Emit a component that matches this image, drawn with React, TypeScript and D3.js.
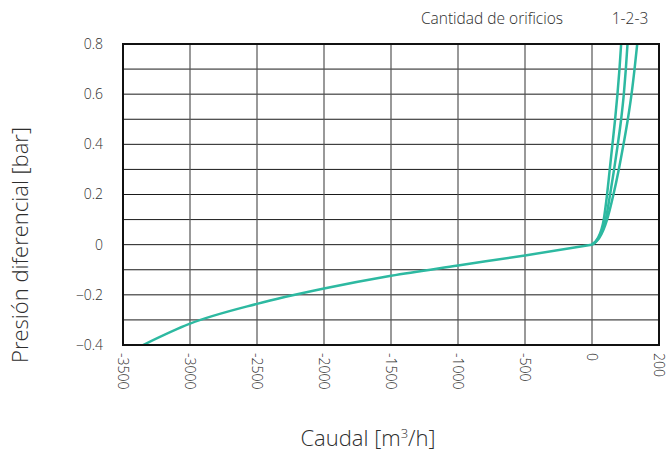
import React from "react";
import * as d3 from "d3";

const xTicks = [-3500, -3000, -2500, -2000, -1500, -1000, -500, 0, 200];
const yTicks = [-0.4, -0.2, 0, 0.2, 0.4, 0.6, 0.8];
const yGrid = [-0.4, -0.3, -0.2, -0.1, 0, 0.1, 0.2, 0.3, 0.4, 0.5, 0.6, 0.7, 0.8];

const negFlow = [-3350, -3000, -2500, -2000, -1500, -1000, -500, 0];
const negDp = [-0.4, -0.315, -0.236, -0.175, -0.124, -0.083, -0.043, 0];

const posDp = [0, 0.025, 0.1, 0.2, 0.3, 0.4, 0.5, 0.6, 0.7, 0.8];
const posFlow1 = [0, 17, 35, 45, 53, 61, 69, 76, 82, 87];
const posFlow2 = [0, 19, 41, 54, 66, 77, 87, 95, 101, 106];
const posFlow3 = [0, 21, 45, 64, 80, 94, 107, 118, 127, 135];

const W = 668;
const H = 453;
const left = 123;
const right = 659;
const top = 44;
const bottom = 345;

const color = "#2db9a1";
const textColor = "#2e2e2e";
const font = "'Open Sans', Lato, sans-serif";

export default function App() {
  const x = d3.scaleLinear().domain([-3500, 0, 200]).range([left, 592, right]);
  const y = d3.scaleLinear().domain([-0.4, 0.8]).range([bottom, top]);

  const line = d3
    .line<[number, number]>()
    .x((d) => x(d[0]))
    .y((d) => y(d[1]))
    .curve(d3.curveMonotoneX);

  const neg: [number, number][] = negFlow.map((f, i) => [f, negDp[i]]);
  const pos = [posFlow1, posFlow2, posFlow3].map(
    (fl) => fl.map((f, i) => [f, posDp[i]] as [number, number])
  );

  return (
    <svg width={W} height={H} style={{ position: "absolute", left: 0, top: 0 }}>
      <rect width={W} height={H} fill="#fff" />
      <defs>
        <clipPath id="plot">
          <rect x={left} y={top} width={right - left} height={bottom - top} />
        </clipPath>
      </defs>
      {yGrid.map((v) => (
        <line key={"h" + v} x1={left} x2={right} y1={y(v)} y2={y(v)} stroke="#1a1a1a" strokeWidth={1} />
      ))}
      {xTicks.map((v) => (
        <line key={"v" + v} x1={x(v)} x2={x(v)} y1={top} y2={bottom} stroke="#555" strokeWidth={1.2} />
      ))}
      <g clipPath="url(#plot)">
        <path d={line(neg) || ""} fill="none" stroke={color} strokeWidth={2.5} />
        {pos.map((p, i) => (
          <path key={i} d={line(p) || ""} fill="none" stroke={color} strokeWidth={2.5} />
        ))}
      </g>
      <rect x={left} y={top} width={right - left} height={bottom - top} fill="none" stroke="#111" strokeWidth={2} />
      {yTicks.map((v) => (
        <text
          key={"yt" + v}
          x={103}
          y={y(v)}
          dy="0.35em"
          textAnchor="end"
          fontFamily={font}
          fontWeight={300}
          fontSize={14}
          fill={textColor}
        >
          {v === 0 ? "0" : d3.format(".1f")(v)}
        </text>
      ))}
      {xTicks.map((v) => (
        <text
          key={"xt" + v}
          transform={`translate(${x(v)},353) rotate(90)`}
          dy="0.35em"
          textAnchor="start"
          fontFamily={font}
          fontWeight={300}
          fontSize={14}
          fill={textColor}
        >
          {String(v)}
        </text>
      ))}
      <text x={368} y={446} textAnchor="middle" fontFamily={font} fontWeight={300} fontSize={22} fill={textColor}>
        Caudal [m<tspan dy={-8} fontSize={13}>3</tspan><tspan dy={8}>/h]</tspan>
      </text>
      <text
        transform={`translate(28,245) rotate(-90)`}
        textAnchor="middle"
        fontFamily={font}
        fontWeight={300}
        fontSize={22}
        fill={textColor}
      >
        Presión diferencial [bar]
      </text>
      <text x={492} y={24} textAnchor="middle" fontFamily={font} fontWeight={300} fontSize={15.5} fill={textColor}>
        Cantidad de orificios
      </text>
      <text x={630} y={24} textAnchor="middle" fontFamily={font} fontWeight={300} fontSize={15.5} fill={textColor}>
        1-2-3
      </text>
    </svg>
  );
}
